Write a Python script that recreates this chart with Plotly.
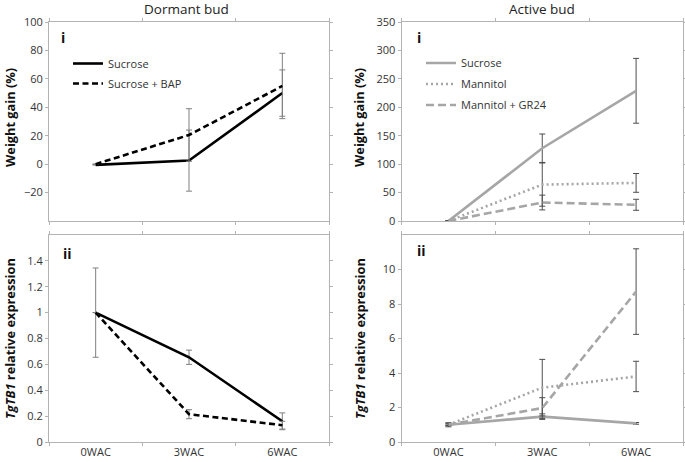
import plotly.graph_objects as go

W, H = 685, 462

categories = ["0WAC", "3WAC", "6WAC"]

# Dormant bud - weight gain (%)
dorm_wg_sucrose = [-0.5, 2.5, 50]
dorm_wg_sucrose_err = [0, 21.5, 16.3]
dorm_wg_bap = [0, 20.5, 55]
dorm_wg_bap_err = [0, 18.5, 23]

# Dormant bud - TgTB1 relative expression
dorm_ex_sucrose = [1.0, 0.655, 0.16]
dorm_ex_sucrose_err = [0.345, 0.055, 0.065]
dorm_ex_bap = [1.0, 0.215, 0.13]
dorm_ex_bap_err = [0, 0.035, 0.03]

# Active bud - weight gain (%)
act_wg_sucrose = [0, 128, 229]
act_wg_sucrose_err = [0, 25, 57]
act_wg_mannitol = [0, 64, 67]
act_wg_mannitol_err = [0, 38, 16.5]
act_wg_gr24 = [0, 32.5, 28.5]
act_wg_gr24_err = [0, 13, 9.7]

# Active bud - TgTB1 relative expression
act_ex_sucrose = [1.0, 1.47, 1.08]
act_ex_sucrose_err = [0.12, 0.16, 0.05]
act_ex_mannitol = [1.0, 3.15, 3.8]
act_ex_mannitol_err = [0.05, 1.64, 0.88]
act_ex_gr24 = [1.0, 1.97, 8.72]
act_ex_gr24_err = [0.05, 0.6, 2.48]

FONT = "Open Sans"
BLACK = "#000000"
GRAY = "#a6a6a6"
FRAME = "#b3b3b3"
TXT = "#333333"


def px_x(p):
    return p / W


def px_y(p):
    return (H - p) / H


fig = go.Figure()


def add(x_ax, y_ax, y, err, color, dash, name, errcolor, legend=None, show=False):
    fig.add_trace(go.Scatter(
        x=categories, y=y, mode="lines", name=name,
        xaxis=x_ax, yaxis=y_ax,
        line=dict(color=color, width=2.6, dash=dash),
        error_y=dict(type="data", array=err, visible=True, color=errcolor,
                     thickness=1, width=3),
        showlegend=show, legend=legend, legendgroup=name + x_ax,
        hoverinfo="skip",
    ))


dash_black = "6px,3.5px"
dash_gray = "8px,4px"
dot_gray = "2px,3px"

add("x", "y", dorm_wg_sucrose, dorm_wg_sucrose_err, BLACK, "solid", "Sucrose", "#808080", "legend", True)
add("x", "y", dorm_wg_bap, dorm_wg_bap_err, BLACK, dash_black, "Sucrose + BAP", "#808080", "legend", True)
add("x2", "y2", dorm_ex_sucrose, dorm_ex_sucrose_err, BLACK, "solid", "Sucrose", "#808080")
add("x2", "y2", dorm_ex_bap, dorm_ex_bap_err, BLACK, dash_black, "Sucrose + BAP", "#808080")

add("x3", "y3", act_wg_sucrose, act_wg_sucrose_err, GRAY, "solid", "Sucrose", "#4d4d4d", "legend2", True)
add("x3", "y3", act_wg_mannitol, act_wg_mannitol_err, GRAY, dot_gray, "Mannitol", "#4d4d4d", "legend2", True)
add("x3", "y3", act_wg_gr24, act_wg_gr24_err, GRAY, dash_gray, "Mannitol + GR24", "#4d4d4d", "legend2", True)
add("x4", "y4", act_ex_sucrose, act_ex_sucrose_err, GRAY, "solid", "Sucrose", "#4d4d4d")
add("x4", "y4", act_ex_mannitol, act_ex_mannitol_err, GRAY, dot_gray, "Mannitol", "#4d4d4d")
add("x4", "y4", act_ex_gr24, act_ex_gr24_err, GRAY, dash_gray, "Mannitol + GR24", "#4d4d4d")

left_dom = [px_x(49), px_x(329)]
right_dom = [px_x(401.5), px_x(683)]
top_dom = [px_y(221), px_y(22)]
bot_dom = [px_y(442), px_y(235)]


def xaxis(dom, anchor, labels):
    return dict(domain=dom, anchor=anchor, type="category", range=[-0.5, 2.5],
                automargin=False,
                showline=True, linecolor=FRAME, linewidth=1, mirror="ticks",
                ticks="outside", ticklen=3, tickcolor=FRAME, tickson="boundaries",
                showgrid=False, zeroline=False, showticklabels=labels,
                tickfont=dict(family=FONT, size=11, color=TXT))


def yaxis(dom, anchor, rng, tickvals):
    return dict(domain=dom, anchor=anchor, range=rng, tickvals=tickvals,
                automargin=False,
                showline=True, linecolor=FRAME, linewidth=1, mirror="ticks",
                ticks="outside", ticklen=3, tickcolor=FRAME,
                showgrid=False, zeroline=False,
                tickfont=dict(family=FONT, size=11, color=TXT))


fig.update_layout(
    width=W, height=H, margin=dict(l=0, r=0, t=0, b=0, autoexpand=False),
    paper_bgcolor="white", plot_bgcolor="white",
    font=dict(family=FONT, color=TXT),
    hovermode=False,
    xaxis=xaxis(left_dom, "y", False),
    yaxis=yaxis(top_dom, "x", [-40, 100], [-20, 0, 20, 40, 60, 80, 100]),
    xaxis2=xaxis(left_dom, "y2", True),
    yaxis2=yaxis(bot_dom, "x2", [0, 1.6], [0, 0.2, 0.4, 0.6, 0.8, 1, 1.2, 1.4]),
    xaxis3=xaxis(right_dom, "y3", False),
    yaxis3=yaxis(top_dom, "x3", [0, 350], [0, 50, 100, 150, 200, 250, 300, 350]),
    xaxis4=xaxis(right_dom, "y4", True),
    yaxis4=yaxis(bot_dom, "x4", [0, 12], [0, 2, 4, 6, 8, 10]),
    legend=dict(x=px_x(68), y=px_y(49), xanchor="left", yanchor="top",
                bgcolor="rgba(0,0,0,0)", font=dict(family=FONT, size=11, color=TXT),
                tracegroupgap=1),
    legend2=dict(x=px_x(421), y=px_y(48.5), xanchor="left", yanchor="top",
                 bgcolor="rgba(0,0,0,0)", font=dict(family=FONT, size=11, color=TXT),
                 tracegroupgap=2),
)

ann = []


def note(text, xc, yc, size, color, angle=0):
    ann.append(dict(text=text, x=px_x(xc), y=px_y(yc), xref="paper", yref="paper",
                    xanchor="center", yanchor="middle", showarrow=False,
                    textangle=angle, font=dict(family=FONT, size=size, color=color)))


note("Dormant bud", 187, 9, 13.5, "#222")
note("Active bud", 542, 9, 13.5, "#222")
for xc, yc, t in [(63, 37, "i"), (67, 253, "ii"), (419, 37, "i"), (421, 250, "ii")]:
    note("<b>" + t + "</b>", xc, yc, 14, "#111")
for xc, yc, t in [(10, 118, "<b>Weight gain (%)</b>"),
                  (10, 339, "<b><i>TgTB1</i> relative expression</b>"),
                  (359, 118, "<b>Weight gain (%)</b>"),
                  (360, 339, "<b><i>TgTB1</i> relative expression</b>")]:
    note(t, xc, yc, 12.8, "#111", -90)
fig.update_layout(annotations=ann)

fig.write_html("out.html", config={"displayModeBar": False, "staticPlot": True},
               post_script="document.body.style.margin='0';document.body.style.overflow='hidden';")
